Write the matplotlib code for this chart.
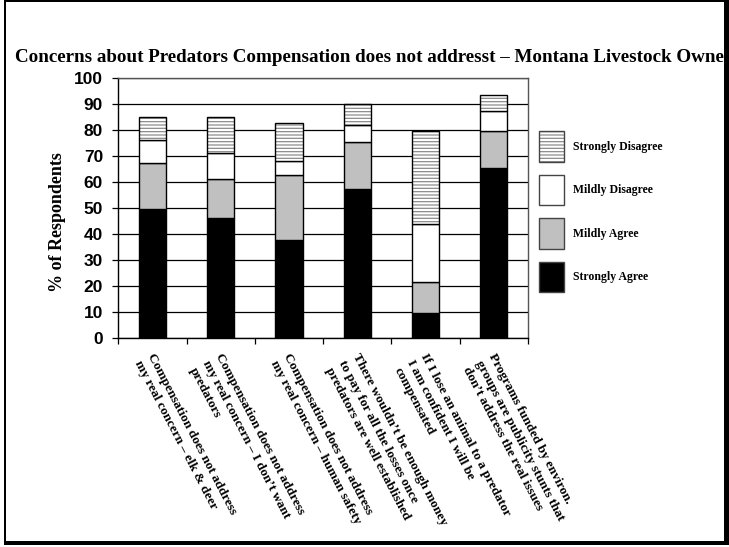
import matplotlib
matplotlib.use("Agg")
import matplotlib.pyplot as plt
import numpy as np
from matplotlib.patches import Rectangle
from matplotlib.legend_handler import HandlerBase
import matplotlib.transforms as mtrans

categories = [
    "Compensation does not address\nmy real concern \u2013 elk & deer",
    "Compensation does not address\nmy real concern \u2013 I don\u2019t want\npredators",
    "Compensation does not address\nmy real concern \u2013 human safety",
    "There wouldn\u2019t be enough money\nto pay for all the losses once\npredators are well established",
    "If I lose an animal to a predator\nI am confident I will be\ncompensated",
    "Programs funded by environ.\ngroups are publicity stunts that\ndon\u2019t address the real issues",
]
strongly_agree = [49.5, 45.8, 37.4, 57.1, 9.3, 65.2]
mildly_agree = [17.5, 15.1, 25.0, 18.0, 11.9, 14.3]
mildly_disagree = [9.0, 10.0, 5.6, 6.7, 22.5, 7.5]
strongly_disagree = [8.7, 13.8, 14.4, 8.0, 35.6, 6.1]
series_names = ["Strongly Agree", "Mildly Agree", "Mildly Disagree", "Strongly Disagree"]
y_ticks = [0, 10, 20, 30, 40, 50, 60, 70, 80, 90, 100]
title = "Concerns about Predators Compensation does not addresst \u2013 Montana Livestock Owners"

plt.rcParams['hatch.linewidth'] = 0.9

W, H = 729, 547
fig = plt.figure(figsize=(W / 100, H / 100), dpi=100)
fig.patch.set_facecolor('white')

left, right, top, bottom = 118.3, 527.8, 77.5, 337.5
ax = fig.add_axes([left / W, 1 - bottom / H, (right - left) / W, (bottom - top) / H])

x = np.arange(len(categories))
bw = 0.4
series = [strongly_agree, mildly_agree, mildly_disagree, strongly_disagree]
styles = [
    dict(color='black'),
    dict(color='#c0c0c0'),
    dict(color='white'),
    dict(color='white', hatch='-----'),
]
hatch_grey = '#8c8c8c'
base = np.zeros(len(categories))
handles = []
for vals, st, name in zip(series, styles, series_names):
    v = np.array(vals)
    if st.get('hatch'):
        ax.bar(x, v, bw, bottom=base, color=st['color'], edgecolor=hatch_grey,
               linewidth=0, hatch=st['hatch'], zorder=3)
        ax.bar(x, v, bw, bottom=base, fill=False, edgecolor='black',
               linewidth=1.0, zorder=4)
    else:
        ax.bar(x, v, bw, bottom=base, color=st['color'], edgecolor='black',
               linewidth=1.0, zorder=3)
    base = base + v
    handles.append((st, name))


class HatchHandler(HandlerBase):
    def create_artists(self, legend, orig_handle, xdescent, ydescent, width, height,
                       fontsize, trans):
        st = orig_handle.st
        if st.get('hatch'):
            r1 = Rectangle((-xdescent, -ydescent), width, height, facecolor='white',
                           edgecolor=hatch_grey, linewidth=0, hatch=st['hatch'],
                           transform=trans)
            r2 = Rectangle((-xdescent, -ydescent), width, height, fill=False,
                           edgecolor='#444444', linewidth=1.0, transform=trans)
            return [r1, r2]
        return [Rectangle((-xdescent, -ydescent), width, height,
                          facecolor=st['color'], edgecolor='#444444',
                          linewidth=1.0, transform=trans)]


class LegendKey:
    def __init__(self, st):
        self.st = st


leg_handles = [LegendKey(st) for st, _ in handles][::-1]
leg_labels = [n for _, n in handles][::-1]
fs = 8.5
leg = fig.legend(leg_handles, leg_labels, loc='upper left',
                 handler_map={LegendKey: HatchHandler()},
                 bbox_to_anchor=(539 / W, 1 - 131 / H), frameon=False,
                 prop=dict(family='Liberation Serif', weight='bold', size=fs),
                 handlelength=2.1, handleheight=3.6, handletextpad=0.75,
                 labelspacing=1.1, borderpad=0, borderaxespad=0)

ax.set_xlim(-0.5, len(categories) - 0.5)
ax.set_ylim(0, 100)
ax.set_yticks(y_ticks)
ax.set_yticklabels([str(t) for t in y_ticks], fontfamily='Liberation Sans',
                   fontweight='bold', fontsize=12.5)
ax.yaxis.grid(True, color='black', linewidth=0.9, zorder=0)
ax.set_axisbelow(True)
ax.tick_params(axis='y', length=4, width=0.9, pad=7)

ax.set_xticks(x)
ax.set_xticks(np.arange(-0.5, len(categories), 1), minor=True)
ax.tick_params(axis='x', which='major', length=0, pad=10)
ax.tick_params(axis='x', which='minor', length=4, width=0.9)
ax.set_xticklabels(categories, rotation=-62.5, ha='left', va='top',
                   rotation_mode='anchor', fontfamily='Liberation Serif',
                   fontweight='bold', fontsize=9.6, linespacing=1.3)
off = mtrans.ScaledTranslation(3 / 100, 0, fig.dpi_scale_trans)
for lab in ax.get_xticklabels():
    lab.set_transform(lab.get_transform() + off)
    lab.set_multialignment('left')

for s in ['top', 'right']:
    ax.spines[s].set_color('#555555')
    ax.spines[s].set_linewidth(1.0)
for s in ['left', 'bottom']:
    ax.spines[s].set_color('black')
    ax.spines[s].set_linewidth(1.0)

ax.set_ylabel("% of Respondents", fontfamily='Liberation Serif', fontweight='bold',
              fontsize=13)
ax.yaxis.set_label_coords((66 - left) / (right - left), (bottom - 222) / (bottom - top))

fig.text(15 / W, 1 - 57 / H, title, ha='left', va='center',
         fontfamily='Liberation Serif', fontweight='bold', fontsize=13.7)


def px_rect(x0, y0, w, h, **kw):
    r = Rectangle((x0 / W, 1 - (y0 + h) / H), w / W, h / H, transform=fig.transFigure,
                  zorder=10, **kw)
    fig.patches.append(r)


px_rect(4, 0, 2, 543, facecolor='black', edgecolor='none')
px_rect(4, 0, 725, 2, facecolor='black', edgecolor='none')
px_rect(724, 0, 5, 545, facecolor='black', edgecolor='none')
px_rect(4, 541, 725, 4, facecolor='black', edgecolor='none')

fig.savefig("out.png", dpi=100, facecolor='white')
